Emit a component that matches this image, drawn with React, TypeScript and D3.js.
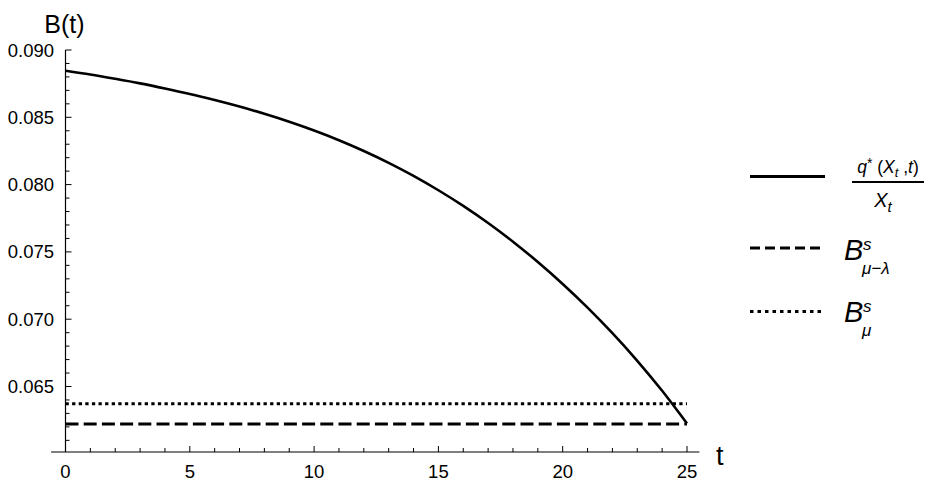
import React from "react";
import * as d3 from "d3";

const tValues = [0, 1, 2, 3, 4, 5, 6, 7, 8, 9, 10, 11, 12, 13, 14, 15, 16, 17, 18, 19, 20, 21, 22, 23, 24, 25];
const curveValues = [
  0.08846, 0.08818, 0.08786, 0.08752, 0.08714, 0.08673, 0.08628, 0.0858, 0.08526, 0.08467,
  0.08402, 0.0833, 0.0825, 0.08162, 0.08065, 0.07958, 0.07842, 0.07715, 0.07576, 0.07425,
  0.07262, 0.07086, 0.06896, 0.06691, 0.06468, 0.06225,
];
const dashedLevel = [0.06222, 0.06222];
const dottedLevel = [0.06372, 0.06372];
const levelT = [0, 25];
const xTickLabels = ["0", "5", "10", "15", "20", "25"];
const yTickLabels = ["0.065", "0.070", "0.075", "0.080", "0.085", "0.090"];

const W = 932;
const H = 492;
const FONT = "'Liberation Sans', Arial, Helvetica, sans-serif";

export default function App() {
  const x = d3.scaleLinear().domain([0, 25]).range([65.5, 687]);
  const y = d3.scaleLinear().domain([0.065, 0.09]).range([386.5, 50]);
  const axisY = 452;

  const line = d3
    .line<number>()
    .x((_, i) => x(tValues[i]))
    .y((d) => y(d))
    .curve(d3.curveMonotoneX);

  const hline = d3
    .line<number>()
    .x((_, i) => x(levelT[i]))
    .y((d) => y(d));

  const xMinor = d3.range(0, 26, 1).filter((v) => v % 5 !== 0);
  const yMinorVals = d3.range(61, 90, 1).map((v) => v / 1000).filter((v) => Math.round(v * 1000) % 5 !== 0);

  return (
    <svg width={W} height={H} style={{ position: "absolute", left: 0, top: 0, background: "#fff" }} fontFamily={FONT}>
      {/* axes */}
      <line x1={x(-0.58)} x2={x(25.5)} y1={axisY} y2={axisY} stroke="#000" strokeWidth={1.2} />
      <line x1={x(0)} x2={x(0)} y1={y(0.09)} y2={axisY} stroke="#000" strokeWidth={1.2} />
      {xTickLabels.map((lab) => {
        const v = +lab;
        return (
          <g key={"xt" + lab}>
            <line x1={x(v)} x2={x(v)} y1={axisY} y2={axisY - 6} stroke="#000" strokeWidth={1} />
            <text x={x(v)} y={478} textAnchor="middle" fontSize={18.5} fill="#000">
              {lab}
            </text>
          </g>
        );
      })}
      {xMinor.map((v) => (
        <line key={"xm" + v} x1={x(v)} x2={x(v)} y1={axisY} y2={axisY - 4} stroke="#000" strokeWidth={1} />
      ))}
      {yTickLabels.map((lab) => {
        const v = +lab;
        return (
          <g key={"yt" + lab}>
            <line x1={x(0)} x2={x(0) + 6} y1={y(v)} y2={y(v)} stroke="#000" strokeWidth={1} />
            <text x={54} y={y(v) + 6.5} textAnchor="end" fontSize={18.5} fill="#000">
              {lab}
            </text>
          </g>
        );
      })}
      {yMinorVals.map((v) => (
        <line key={"ym" + v} x1={x(0)} x2={x(0) + 4} y1={y(v)} y2={y(v)} stroke="#000" strokeWidth={1} />
      ))}
      <text x={x(0) - 1} y={33} textAnchor="middle" fontSize={25} fill="#000">
        B(t)
      </text>
      <text x={716} y={465} fontSize={27} fill="#000">
        t
      </text>

      {/* data */}
      <path d={hline(dottedLevel) || ""} fill="none" stroke="#000" strokeWidth={3} strokeDasharray="3.3,3.3" />
      <path d={hline(dashedLevel) || ""} fill="none" stroke="#000" strokeWidth={3} strokeDasharray="13,5.2" />
      <path d={line(curveValues) || ""} fill="none" stroke="#000" strokeWidth={2.6} />

      {/* legend */}
      <line x1={750} x2={825} y1={176.5} y2={176.5} stroke="#000" strokeWidth={3} />
      <line x1={750} x2={825} y1={248} y2={248} stroke="#000" strokeWidth={3} strokeDasharray="10,5" />
      <line x1={750} x2={825} y1={311.5} y2={311.5} stroke="#000" strokeWidth={3} strokeDasharray="3.5,4" />

      <text x={888} y={173} textAnchor="middle" fontSize={17.5} fill="#000">
        <tspan fontStyle="italic">q</tspan>
        <tspan dy={-5} fontSize={14}>*</tspan>
        <tspan dy={5}> (</tspan>
        <tspan fontStyle="italic">X</tspan>
        <tspan dy={4} fontSize={13} fontStyle="italic">t</tspan>
        <tspan dy={-4}> ,</tspan>
        <tspan fontStyle="italic">t</tspan>
        <tspan>)</tspan>
      </text>
      <line x1={852} x2={924} y1={182} y2={182} stroke="#000" strokeWidth={2} />
      <text x={883} y={207} textAnchor="middle" fontSize={20} fill="#000">
        <tspan fontStyle="italic">X</tspan>
        <tspan dy={5} fontSize={15} fontStyle="italic">t</tspan>
      </text>

      <text x={844} y={260} fontSize={29} fontStyle="italic" fill="#000">B</text>
      <text x={863} y={250} fontSize={17} fontStyle="italic" fill="#000">s</text>
      <text x={862} y={274} fontSize={17} fontStyle="italic" fill="#000">μ−λ</text>

      <text x={844} y={322} fontSize={29} fontStyle="italic" fill="#000">B</text>
      <text x={863} y={312} fontSize={17} fontStyle="italic" fill="#000">s</text>
      <text x={862} y={336} fontSize={17} fontStyle="italic" fill="#000">μ</text>
    </svg>
  );
}
